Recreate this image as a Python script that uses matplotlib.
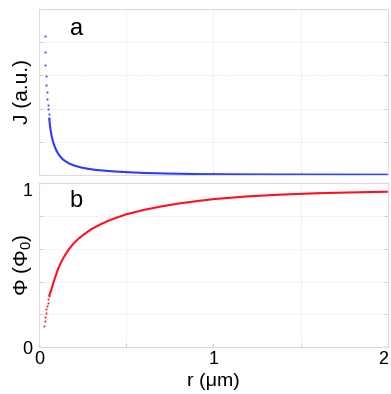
import numpy as np
import matplotlib
matplotlib.use('Agg')
import matplotlib.pyplot as plt
from matplotlib.ticker import FixedLocator

plt.rcParams['font.family'] = ['Liberation Sans', 'DejaVu Sans']
plt.rcParams['mathtext.fontset'] = 'custom'
plt.rcParams['mathtext.rm'] = 'Liberation Sans'
plt.rcParams['mathtext.it'] = 'Liberation Sans:italic'

# panel a : current density, separate dots near the core
r_j_dots = [0.031, 0.034, 0.036, 0.039, 0.042, 0.045, 0.047, 0.050, 0.053, 0.055, 0.058]
j_dots = [0.837, 0.741, 0.663, 0.596, 0.542, 0.500, 0.458, 0.422, 0.398, 0.367, 0.343]
# panel a : rest of the curve
r_j = [0.058, 0.062, 0.066, 0.070, 0.075, 0.080, 0.090, 0.100, 0.110, 0.120, 0.135,
       0.150, 0.170, 0.200, 0.240, 0.280, 0.320, 0.370, 0.430, 0.500, 0.600, 0.750,
       0.920, 1.200, 1.600, 2.000]
j_vals = [0.343, 0.300, 0.270, 0.245, 0.220, 0.200, 0.170, 0.145, 0.127, 0.112, 0.095,
          0.083, 0.070, 0.057, 0.045, 0.037, 0.031, 0.026, 0.021, 0.017, 0.012, 0.008,
          0.005, 0.003, 0.002, 0.0015]

# panel b : flux, separate dots near the core
r_phi_dots = [0.027, 0.031, 0.035, 0.038, 0.042, 0.046, 0.050, 0.053, 0.057]
phi_dots = [0.128, 0.159, 0.185, 0.209, 0.230, 0.250, 0.270, 0.291, 0.311]
# panel b : rest of the curve
r_phi = [0.057, 0.060, 0.070, 0.080, 0.090, 0.100, 0.110, 0.125, 0.140, 0.160, 0.180,
         0.200, 0.230, 0.260, 0.300, 0.350, 0.400, 0.450, 0.500, 0.600, 0.700, 0.800,
         0.900, 1.000, 1.200, 1.400, 1.600, 1.800, 2.000]
phi_vals = [0.311, 0.320, 0.350, 0.385, 0.420, 0.450, 0.480, 0.515, 0.545, 0.580, 0.610,
            0.635, 0.665, 0.690, 0.720, 0.748, 0.772, 0.792, 0.810, 0.837, 0.858, 0.876,
            0.890, 0.903, 0.920, 0.931, 0.939, 0.944, 0.948]

blue = '#2b3bff'
red = '#ff1020'
light = '#dcdcdc'

fig = plt.figure(figsize=(3.91, 3.94), dpi=100)
ax1 = fig.add_axes([0.100, 0.556, 0.892, 0.421])
ax2 = fig.add_axes([0.100, 0.119, 0.892, 0.416])

for ax in (ax1, ax2):
  ax.set_xlim(0, 2)
  ax.set_ylim(0, 1)
  for s in ax.spines.values():
    s.set_color(light)
    s.set_linewidth(0.8)
  ax.xaxis.set_minor_locator(FixedLocator([0.5, 1.0, 1.5]))
  ax.yaxis.set_minor_locator(FixedLocator([0.2, 0.4, 0.6, 0.8]))
  ax.grid(which='minor', color='#e2e2e2', linestyle=':', linewidth=0.7)
  ax.tick_params(which='both', direction='in', color='#c8c8c8', length=3,
                 left=True, right=True, top=False, bottom=True, labelsize=13)
  ax.tick_params(axis='y', pad=5)
  ax.tick_params(axis='x', pad=3)

ax1.plot(r_j, j_vals, color=blue, linewidth=1.5, solid_capstyle='butt')
ax1.plot(r_j_dots, j_dots, linestyle='none', marker='s', markersize=1.3,
         markeredgewidth=0, color=blue)
ax1.xaxis.set_major_locator(FixedLocator([]))
ax1.yaxis.set_major_locator(FixedLocator([]))
ax1.set_ylabel('J (a.u.)', fontsize=15)
ax1.yaxis.set_label_coords(-0.049, 0.5)
ax1.yaxis.label.set_va('center')
ax1.text(0.106, 0.88, 'a', transform=ax1.transAxes, fontsize=17, ha='center', va='center')

ax2.plot(r_phi, phi_vals, color=red, linewidth=1.5, solid_capstyle='butt')
ax2.plot(r_phi_dots, phi_dots, linestyle='none', marker='s', markersize=1.3,
         markeredgewidth=0, color=red)
ax2.xaxis.set_major_locator(FixedLocator([0, 1, 2]))
ax2.yaxis.set_major_locator(FixedLocator([0, 1]))
ax2.set_xticklabels(['0', '1', '2'])
ax2.set_yticklabels(['0', '1'])
ax2.get_xticklabels()[-1].set_ha('right')
ax2.get_yticklabels()[-1].set_va('top')
ax2.set_ylabel('Φ (Φ$_0$)', fontsize=15)
ax2.yaxis.set_label_coords(-0.049, 0.5)
ax2.yaxis.label.set_va('center')
ax2.set_xlabel('r (μm)', fontsize=14)
ax2.xaxis.set_label_coords(0.5, -0.207)
ax2.xaxis.label.set_va('center')
ax2.text(0.106, 0.89, 'b', transform=ax2.transAxes, fontsize=17, ha='center', va='center')

plt.savefig('out.png', dpi=100)
plt.close()
